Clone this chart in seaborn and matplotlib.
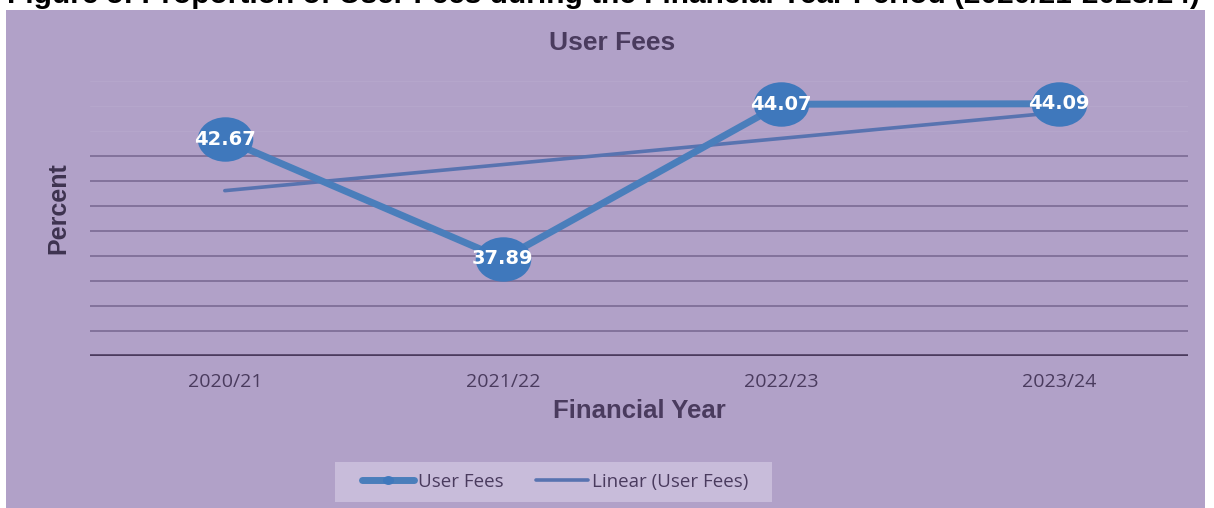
import matplotlib
matplotlib.use("Agg")
import matplotlib.pyplot as plt
import seaborn as sns
import numpy as np
import pandas as pd
from matplotlib.path import Path
from matplotlib.transforms import Affine2D
from matplotlib.patches import Rectangle

# data
years = ["2020/21", "2021/22", "2022/23", "2023/24"]
user_fees = [42.67, 37.89, 44.07, 44.09]
grid_levels = [35, 36, 37, 38, 39, 40, 41, 42]
faint_levels = [43, 44, 45]

panel_col = "#B1A1C8"
text_col = "#4A3B5E"
line_col = "#4A7EBB"
trend_col = "#5873B0"

sns.set_theme(style="white")
plt.rcParams['font.family'] = ['Liberation Sans', 'DejaVu Sans']

fig = plt.figure(figsize=(12.14, 5.08), dpi=100, facecolor="white")

# purple chart panel (the screenshot has white margin at top/left)
fig.patches.append(Rectangle((6/1214, 0), 1199/1214, 1 - 10/508, transform=fig.transFigure,
                             facecolor=panel_col, edgecolor="none", zorder=-10))
# legend box, wider than the legend itself like Excel's
fig.patches.append(Rectangle((335/1214, 1 - 502/508), 437/1214, 40/508, transform=fig.transFigure,
                             facecolor="#C8BCDA", edgecolor="none", zorder=-5))

# caption cut off by the screenshot crop
fig.text(0.497, 1 + 5/508, "Figure 5: Proportion of User Fees during the Financial Year Period (2020/21-2023/24)",
         ha="center", va="center", fontsize=21.5, fontweight="bold", color="black")

ax = fig.add_axes([90/1214, 1 - 356/508, 1098/1214, 296/508])
ax.set_facecolor("none")

x = np.arange(len(years))
df = pd.DataFrame({"pos": x, "value": user_fees})

# linear trendline like Excel's
slope, icpt = np.polyfit(x, user_fees, 1)
df["trend"] = icpt + slope * x

for lv in grid_levels:
    ax.axhline(lv, color="#7F6F98", lw=1.3, zorder=1)
for lv in faint_levels:
    ax.axhline(lv, color="#B5A6CB", lw=1.0, zorder=1)
ax.axhline(34, color="#4B3B5E", lw=2.6, zorder=2)

ell = Path.unit_circle().transformed(Affine2D().scale(1.0, 0.8))

sns.lineplot(data=df, x="pos", y="trend", ax=ax, color=trend_col, lw=2.6,
             label="Linear (User Fees)", zorder=3)
sns.lineplot(data=df, x="pos", y="value", ax=ax, color=line_col, lw=5,
             marker=ell, markersize=40, markeredgewidth=0, markerfacecolor="#3F78BC",
             label="User Fees", zorder=4)

for xi, v in zip(x, user_fees):
    ax.text(xi, v, f"{v:.2f}", ha="center", va="center", color="white",
            fontsize=14, fontweight="bold", family=["DejaVu Sans"], zorder=5)

ax.set_xlim(-0.485, 3.465)
ax.set_ylim(34, 45.84)
ax.set_xticks(x)
ax.set_xticklabels(years, fontsize=14, color=text_col, family=["Open Sans"])
ax.set_yticks([])
ax.tick_params(axis="x", length=0, pad=12)
for s in ax.spines.values():
    s.set_visible(False)

ax.set_xlabel("Financial Year", fontsize=18.5, fontweight="bold", color=text_col, labelpad=6)
ax.set_ylabel("Percent", fontsize=18, fontweight="bold", color="#3E3350", labelpad=14)
fig.text(612/1214, 1 - 43/508, "User Fees", ha="center", va="center", fontsize=19,
         fontweight="bold", color=text_col)

# legend: user fees first, trend second
h, l = ax.get_legend_handles_labels()
leg = ax.legend(h[::-1], l[::-1], loc="center", bbox_to_anchor=(555/1214, 1 - 482/508),
                bbox_transform=fig.transFigure, ncol=2, frameon=False,
                prop={"family": "Open Sans", "size": 13.5}, handlelength=2.8,
                handletextpad=0.2, columnspacing=1.7, borderaxespad=0)
for t in leg.get_texts():
    t.set_color(text_col)
leg.legend_handles[0].set_markersize(8)

fig.savefig("out.png", dpi=100, facecolor="white")
